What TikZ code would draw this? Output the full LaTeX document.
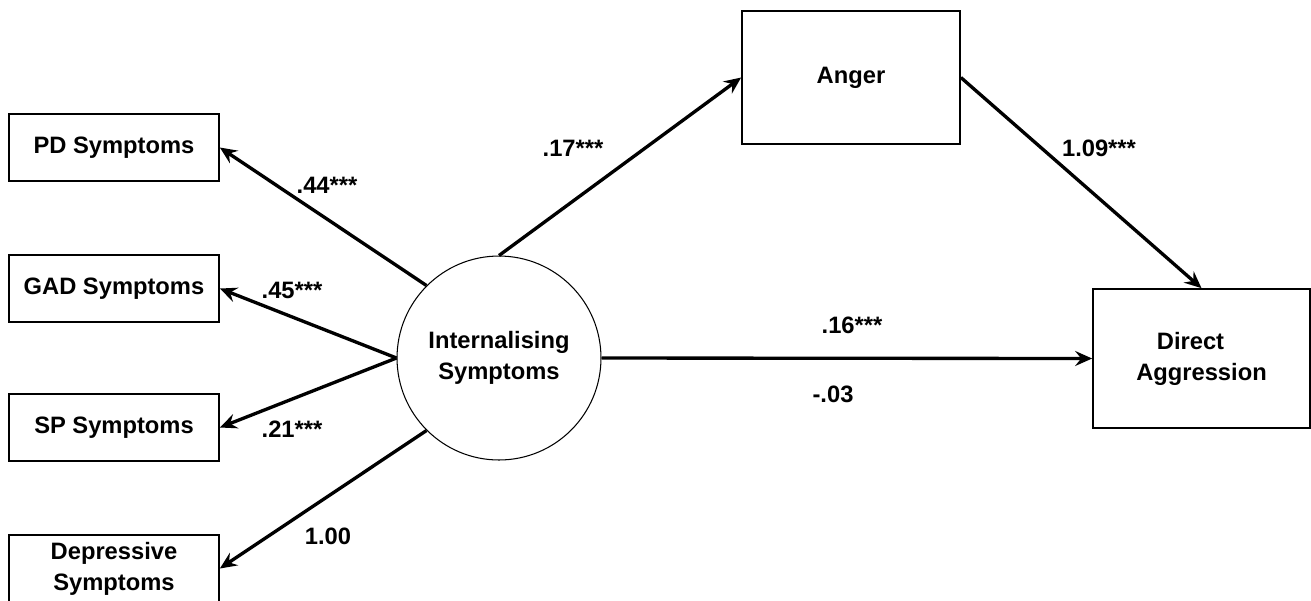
\documentclass[tikz,border=0pt]{standalone}
\usepackage{fontspec}
\setmainfont{Liberation Sans}
\usetikzlibrary{arrows.meta}

\begin{document}
\begin{tikzpicture}[x=0.02cm,y=-0.02cm,
  font=\bfseries\fontsize{13.5}{17.6}\selectfont,
  box/.style={draw,line width=1pt,align=center,inner sep=0pt},
  small box/.style={box,minimum width=4.2cm,minimum height=1.34cm},
  latent/.style={draw,circle,line width=0.6pt,minimum size=4.08cm,align=center,inner sep=0pt},
  path/.style={line width=1.9pt,-{Stealth[length=3.4mm,width=3mm,inset=1.2mm]}},
  coef/.style={inner sep=0pt}]
  \useasboundingbox (0,0) rectangle (1311,600);
  \node[latent] (int) at (499,358) {Internalising\\Symptoms};
  \node[small box] (pd) at (114,147.5) {PD Symptoms};
  \node[small box] (gad) at (114,288.5) {GAD Symptoms};
  \node[small box] (sp) at (114,427.5) {SP Symptoms};
  \node[small box] (dep) at (114,568.5) {Depressive\\Symptoms};
  \node[box,minimum width=4.36cm,minimum height=2.66cm] (anger) at (851,77.5) {Anger};
  \node[box,minimum width=4.34cm,minimum height=2.78cm] (aggr) at (1201.5,358.5) {Direct\hspace*{0.44cm}\\Aggression};

  \draw[path] (int.135) -- (pd.east);
  \draw[path] (int.180) -- (gad.east);
  \draw[path] (int.180) -- (sp.east);
  \draw[path] (int.225) -- (dep.east);
  \draw[path] (int.90) -- (anger.west);
  \draw[path] (anger.east) -- (aggr.north);
  \draw[path] (int.0) -- (aggr.west);

  \node[coef] (c-pd) at (327,185) {.44***};
  \node[coef] (c-gad) at (292,290) {.45***};
  \node[coef] (c-sp) at (292,429) {.21***};
  \node[coef] (c-dep) at (328,536) {1.00};
  \node[coef] (c-anger) at (573,148) {.17***};
  \node[coef] (c-aggr) at (1099,148) {1.09***};
  \node[coef] (c-total) at (852,325) {.16***};
  \node[coef] (c-direct) at (833,394) {-.03};
\end{tikzpicture}
\end{document}
